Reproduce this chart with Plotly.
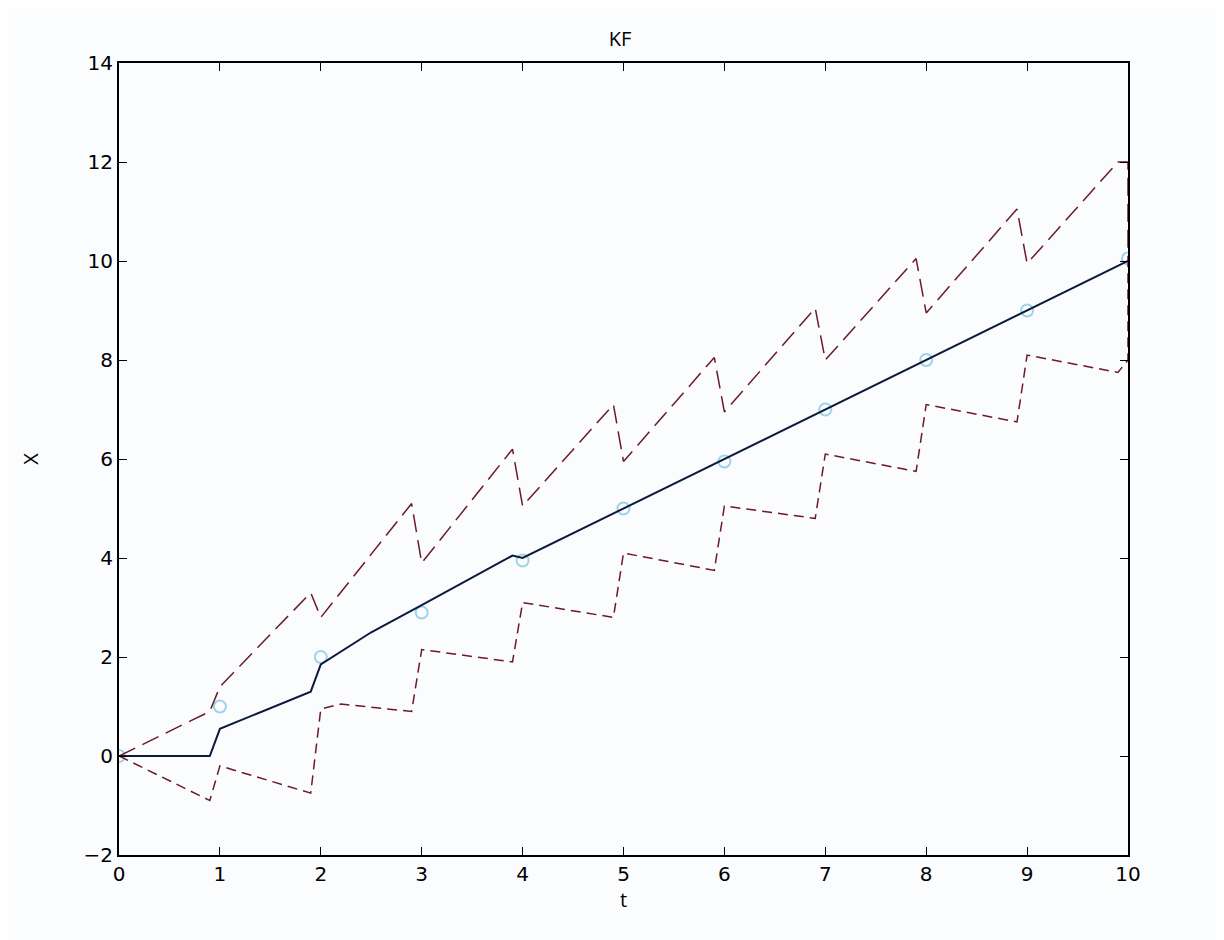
import plotly.graph_objects as go

t_meas = [0, 1, 2, 3, 4, 5, 6, 7, 8, 9, 10]
x_meas = [0, 1.0, 2.0, 2.9, 3.95, 5.0, 5.95, 7.0, 8.0, 9.0, 10.05]

t_est = [0, 0.9, 1.0, 1.9, 2.0, 2.5, 3.0, 3.5, 3.9, 4.0, 5.0, 6.0, 7.0, 8.0, 9.0, 10.0]
x_est = [0, 0, 0.55, 1.3, 1.85, 2.5, 3.05, 3.6, 4.05, 4.0, 5.0, 6.0, 7.0, 8.0, 9.0, 10.0]

t_up = [0, 0.9, 1.0, 1.9, 2.0, 2.9, 3.0, 3.9, 4.0, 4.9, 5.0, 5.9, 6.0, 6.9, 7.0, 7.9, 8.0, 8.9, 9.0, 9.9, 10.0, 10.0]
x_up = [0, 0.9, 1.4, 3.3, 2.8, 5.1, 3.9, 6.2, 5.05, 7.1, 5.95, 8.05, 6.95, 9.05, 8.0, 10.05, 8.95, 11.05, 9.95, 12.0, 12.0, 10.0]

t_lo = [0, 0.9, 1.0, 1.9, 2.0, 2.2, 2.9, 3.0, 3.9, 4.0, 4.9, 5.0, 5.9, 6.0, 6.9, 7.0, 7.9, 8.0, 8.9, 9.0, 9.9, 10.0, 10.0]
x_lo = [0, -0.9, -0.2, -0.75, 0.95, 1.05, 0.9, 2.15, 1.9, 3.1, 2.8, 4.1, 3.75, 5.05, 4.8, 6.1, 5.75, 7.1, 6.75, 8.1, 7.75, 8.0, 10.0]

fig = go.Figure()
fig.add_trace(go.Scatter(x=t_meas, y=x_meas, mode="markers",
    marker=dict(symbol="circle-open", size=12, color="#9fd3ea", line=dict(width=2))))
fig.add_trace(go.Scatter(x=t_up, y=x_up, mode="lines", line=dict(color="#6b1a2a", width=1.5, dash="18px,8px")))
fig.add_trace(go.Scatter(x=t_lo, y=x_lo, mode="lines", line=dict(color="#6b1a2a", width=1.5, dash="10px,6px")))
fig.add_trace(go.Scatter(x=t_est, y=x_est, mode="lines", line=dict(color="#0c1a3c", width=2)))

ax = dict(showgrid=False, zeroline=False, showline=True, mirror="allticks", linecolor="black",
          linewidth=2, ticks="inside", ticklen=8, tickcolor="black",
          tickfont=dict(size=20, color="black", family="DejaVu Sans"))
fig.update_layout(
    width=1224, height=940, showlegend=False,
    paper_bgcolor="#fbfcfe", plot_bgcolor="#fbfcfe",
    margin=dict(l=111, r=104, t=55, b=93),
    title=dict(text="KF", x=0.5, y=0.975, xanchor="center", font=dict(size=20, color="black")),
    xaxis=dict(ax, range=[0, 10], dtick=1, title=dict(text="t", font=dict(size=20, color="black"), standoff=8)),
    yaxis=dict(ax, range=[-2, 14], dtick=2, title=dict(text="X", font=dict(size=20, color="black"), standoff=40)),
)
fig.write_html("out.html")
